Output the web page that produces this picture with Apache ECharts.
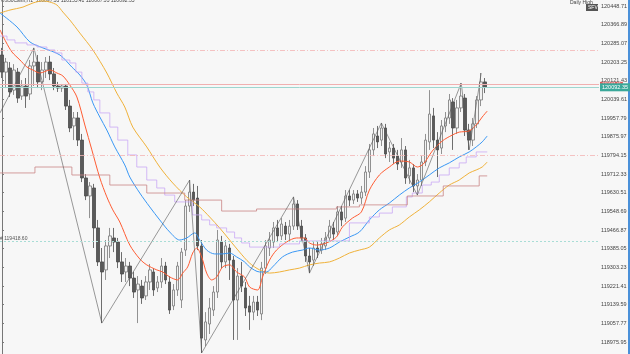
<!DOCTYPE html>
<html>
<head>
<meta charset="utf-8">
<script src="https://cdn.jsdelivr.net/npm/echarts@6/dist/echarts.min.js"></script>
<style>
  html, body { margin: 0; padding: 0; background: #f7f7f7; }
  #main { width: 630px; height: 354px; }
</style>
</head>
<body>
<div id="main"></div>
<script>
// H1 candles: [open, close, low, high]
const candles = [
  [120234,120159,120133,120265],[120159,120203,120089,120221],[120177,120072,120050,120203],[120080,120168,120059,120194],
  [120159,120045,120024,120177],[120054,120098,120037,120124],[120098,120054,120002,120133],[120063,120186,120037,120212],
  [120186,120203,120098,120265],[120203,120116,120089,120234],[120116,120168,120080,120203],[120168,120203,120133,120225],
  [120203,120151,120124,120230],[120151,120098,120080,120177],[120098,120089,120072,120116],[120089,120098,120072,120107],
  [120098,120010,119993,120107],[120010,119914,119896,120037],[119923,119958,119861,119984],[119958,119861,119835,119984],
  [119861,119695,119677,119888],[119695,119616,119598,119712],[119616,119660,119519,119677],[119651,119476,119388,119669],
  [119476,119327,119309,119511],[119327,119283,119059,119388],[119292,119397,119248,119423],[119397,119441,119344,119476],
  [119432,119414,119370,119476],[119414,119327,119300,119432],[119327,119274,119239,119370],[119283,119309,119239,119344],
  [119309,119256,119221,119327],[119256,119195,119169,119283],[119204,119230,119059,119265],[119221,119169,119143,119248],
  [119178,119239,119160,119265],[119239,119292,119204,119318],[119283,119204,119178,119300],[119213,119239,119195,119265],
  [119239,119309,119213,119344],[119309,119248,119230,119327],[119239,119116,119099,119265],[119134,119204,119116,119230],
  [119204,119309,119178,119327],[119160,119370,119125,119388],[119379,119572,119353,119598],[119572,119633,119546,119686],
  [119633,119598,119572,119669],[119607,119397,119379,119660],[119397,118993,118928,119423],[118985,119064,118958,119107],
  [119055,119125,119011,119169],[119116,119195,119090,119221],[119195,119423,119169,119467],[119414,119327,119300,119441],
  [119327,119397,119300,119423],[119388,119335,119248,119406],[119335,119160,118985,119353],[119160,119265,118985,119300],
  [119265,119221,119195,119327],[119213,119125,119090,119239],[119134,119107,119029,119178],[119107,119151,119072,119178],
  [119151,119116,119090,119178],[119099,119300,119072,119327],[119300,119397,119274,119423],[119388,119423,119353,119458],
  [119414,119476,119388,119502],[119476,119441,119414,119511],[119441,119493,119423,119519],[119484,119449,119423,119502],
  [119449,119484,119414,119511],[119484,119581,119467,119612],[119581,119484,119467,119598],[119484,119432,119414,119511],
  [119432,119353,119327,119449],[119353,119327,119278,119388],[119335,119388,119309,119414],[119388,119370,119344,119414],
  [119379,119406,119362,119432],[119397,119432,119379,119458],[119432,119484,119414,119511],[119476,119449,119423,119502],
  [119458,119546,119441,119572],[119546,119511,119484,119572],[119519,119616,119502,119642],[119616,119598,119572,119642],
  [119598,119625,119581,119642],[119625,119607,119590,119642],[119607,119633,119581,119660],[119633,119721,119616,119747],
  [119721,119818,119695,119844],[119818,119888,119791,119914],[119879,119853,119826,119923],[119861,119914,119835,119936],
  [119914,119800,119782,119932],[119809,119826,119765,119853],[119826,119782,119756,119844],[119791,119756,119730,119818],
  [119765,119818,119739,119870],[119818,119695,119669,119835],[119704,119739,119669,119774],[119739,119660,119633,119756],
  [119660,119686,119620,119712],[119686,119765,119660,119791],[119765,119861,119747,119888],[119853,119975,119818,120080],
  [119967,119861,119826,120002],[119861,119818,119699,119896],[119826,119923,119800,119949],[119923,119958,119896,119984],
  [119958,120037,119932,120063],[120028,119914,119818,120045],[119914,120002,119888,120037],[120002,120054,119984,120111],
  [120045,119905,119879,120063],[119905,119861,119818,119932],[119861,119932,119835,119958],[119932,120037,119914,120054],
  [120037,120116,120010,120155],[120116,120092,120067,120133]
]

// indicator lines as [bar position, price]
const fastMA = [
  [-0.5,120344],[1,120291],[2.5,120247],[4.5,120212],[6.25,120181],[7.75,120168],[9.5,120155],[12,120168],
  [13.75,120155],[15.25,120142],[17,120102],[18.75,120050],[20.75,119927],[22.5,119818],[24.5,119695],[26.25,119612],
  [27.75,119555],[29.5,119502],[32,119401],[34.5,119340],[36.25,119314],[38.75,119292],[40.25,119283],[42,119261],
  [44,119248],[45.25,119278],[46.5,119305],[47.75,119366],[48.75,119388],[50,119349],[51.25,119278],[52.5,119248],
  [53.75,119261],[55.25,119305],[57,119314],[58.75,119283],[60.75,119261],[62,119217],[64,119204],[65.25,119261],
  [67,119335],[68.75,119379],[71.25,119414],[73.75,119432],[75.75,119432],[77,119410],[78.75,119401],[81.25,119410],
  [83.75,119436],[85.25,119480],[87.75,119519],[90,119546],[92,119642],[94.5,119708],[97,119743],[99.5,119769],
  [102,119765],[104,119743],[105.5,119756],[107.75,119813],[110.25,119857],[112.75,119883],[114.5,119896],[117,119901],
  [118.75,119927],[120.25,119962],[121.5,119988]
]
const midMA = [
  [-0.5,120418],[3.75,120357],[7,120291],[10.25,120265],[14.5,120234],[17.5,120181],[19.5,120146],[21.25,120102],
  [22.75,120024],[24.5,119962],[26.25,119905],[28.25,119831],[30.75,119752],[32,119699],[34.5,119629],[37,119568],
  [39.5,119511],[42,119458],[44.5,119423],[46.25,119432],[48.25,119454],[49.5,119423],[51.25,119379],[53.25,119362],
  [55.25,119362],[57,119366],[58.75,119349],[60.75,119327],[62,119305],[64.5,119283],[66.25,119283],[67.75,119305],
  [70.25,119349],[72.75,119370],[75.25,119379],[77,119388],[79.5,119379],[82,119388],[84.5,119414],[87,119436],
  [89.5,119458],[92,119511],[94.5,119555],[97,119585],[99.5,119620],[102,119651],[104.5,119677],[107,119708],
  [109.5,119739],[112,119761],[114.5,119787],[117,119809],[118.75,119831],[120.25,119853],[121.5,119879]
]
const slowMA = [
  [-0.5,120418],[2,120431],[5.25,120444],[7.75,120462],[10.25,120471],[12,120466],[13.75,120453],[15.25,120422],
  [17,120387],[19.5,120330],[22.75,120256],[26.25,120155],[28.75,120067],[30.75,120006],[32.75,119918],[36.25,119831],
  [39.5,119743],[42.75,119673],[46.25,119612],[49.5,119568],[52,119524],[54.5,119476],[57,119423],[59.5,119370],
  [62,119322],[64.5,119292],[67,119278],[69.5,119283],[72,119292],[74.5,119300],[77,119314],[79.5,119322],
  [82,119327],[84.5,119344],[87,119366],[89.5,119379],[92,119392],[94.5,119432],[97,119467],[99.5,119489],
  [102,119524],[104.5,119555],[107,119590],[109.5,119629],[112,119664],[114.5,119686],[117,119717],[118.75,119730],
  [120.25,119743],[121.5,119765]
]
const purpleSteps = [
  [-0.5,120317],[1.25,120300],[3.25,120287],[6.25,120278],[8.75,120269],[11.25,120256],[13.25,120243],[15,120212],
  [17,120199],[18.5,120159],[20,120111],[21.5,120072],[23,120037],[24.5,119980],[27,119918],[29,119861],
  [31.5,119796],[33.75,119743],[36.25,119686],[38.75,119651],[40.75,119620],[43.25,119590],[47.75,119533],[50,119511],
  [52,119489],[53.75,119476],[56.25,119458],[58.25,119432],[60,119410],[62,119392],[69.5,119406],[74.5,119419],
  [87,119498],[92,119524],[94.5,119541],[97.75,119568],[101.25,119612],[102.75,119629],[105.25,119664],[107.5,119677],
  [109.5,119708],[112,119739],[114.5,119761],[116.25,119787],[118.75,119809],[121.5,119809]
]
const redSteps = [
  [-0.5,119717],[8.25,119743],[17.5,119708],[27,119664],[36.25,119629],[45.75,119598],[55,119550],[63.75,119559],
  [83.75,119568],[89.5,119577],[101.5,119616],[110.5,119660],[119.5,119704],[121.5,119704]
]
const zigzag = [
  [-0.5,119980],[8,120265],[25,119059],[47,119686],[50,118928],[73,119612],[77,119278],
  [95,119936],[104,119620],[115,120111],[117,119818],[120,120155]
]

// price axis ticks and horizontal levels
const priceTicks = [
  120448.71,120366.89,120285.07,120203.25,120121.43,120039.61,119957.79,119875.97,119794.15,119712.33,
  119630.51,119548.69,119466.87,119385.05,119303.23,119221.41,119139.59,119057.77,118975.95
]
const levelDashed = [120256, 119796]
const levelHigh = 120107.41
const levelBid = 120092.35
const levelDotted = 119418.6

const barSlots = 150
const slots = []
for (let i = 0; i < barSlots; i++) slots.push(String(i))

const chart = echarts.init(document.getElementById('main'), null, { renderer: 'canvas' })

const lineSeries = (data, color, extra) => Object.assign({
  type: 'line',
  xAxisIndex: 1,
  data: data,
  symbol: 'none',
  smooth: 0.3,
  silent: true,
  lineStyle: { color: color, width: 1 }
}, extra || {})

const tag = (text, bg, size, pad) => ({
  show: true, position: 'end', distance: 1,
  formatter: () => text,
  fontSize: size, fontFamily: 'Liberation Sans', color: '#fff', backgroundColor: bg, padding: pad
})

chart.setOption({
  backgroundColor: '#f7f7f7',
  animation: false,
  grid: { left: 0, right: 30, top: 0, bottom: 0 },
  xAxis: [
    { type: 'category', data: slots, boundaryGap: true, show: false },
    { type: 'value', min: -0.5, max: barSlots - 0.5, show: false }
  ],
  yAxis: {
    type: 'value',
    position: 'right',
    min: 118923.4,
    max: 120475.0,
    axisLine: { show: true, lineStyle: { color: '#777', width: 1 } },
    axisTick: { show: true, customValues: priceTicks, length: 2, lineStyle: { color: '#777' } },
    axisLabel: {
      customValues: priceTicks,
      fontSize: 5.5,
      fontFamily: 'Liberation Sans',
      color: '#444',
      margin: 2,
      formatter: v => v.toFixed(2)
    },
    splitLine: { show: false }
  },
  series: [
    {
      type: 'candlestick',
      data: candles,
      barWidth: 3,
      silent: true,
      itemStyle: {
        color: '#f2f2f2',
        color0: '#5a5a5a',
        borderColor: '#777',
        borderColor0: '#4a4a4a',
        borderWidth: 0.8
      }
    },
    lineSeries(slowMA, '#f0b23a'),
    lineSeries(midMA, '#3a98f5'),
    lineSeries(fastMA, '#ff5c33'),
    lineSeries(purpleSteps, '#c9a8f5', { smooth: false, step: 'end', lineStyle: { color: '#c9a8f5', width: 0.8 } }),
    lineSeries(redSteps, '#c98585', { smooth: false, step: 'end', lineStyle: { color: '#c98585', width: 0.8 } }),
    lineSeries(zigzag, '#555', {
      smooth: false,
      lineStyle: { color: '#555', width: 0.6 },
      markLine: {
        silent: true,
        symbol: 'none',
        animation: false,
        data: [
          { yAxis: levelDashed[0], lineStyle: { color: '#f2b4b4', type: [5, 2, 1, 2], width: 0.8 }, label: { show: false } },
          { yAxis: levelDashed[1], lineStyle: { color: '#f2b4b4', type: [5, 2, 1, 2], width: 0.8 }, label: { show: false } },
          {
            yAxis: levelHigh,
            lineStyle: { color: '#f0b0b0', type: 'solid', width: 1 },
            label: tag(levelHigh.toFixed(2), '#e25a5a', 4, [0, 2])
          },
          {
            yAxis: levelBid,
            lineStyle: { color: '#9ed6cf', type: 'solid', width: 1 },
            label: tag(levelBid.toFixed(2), '#3aa89a', 5.5, [1, 2])
          },
          {
            yAxis: levelDotted,
            lineStyle: { color: '#a9ddd6', type: [2, 2], width: 1 },
            label: {
              show: true, position: 'insideStartTop', distance: 0,
              formatter: () => '# ' + levelDotted.toFixed(2),
              fontSize: 5, color: '#555'
            }
          }
        ]
      }
    })
  ],
  graphic: [
    { type: 'text', left: 1, top: -2, style: { text: 'US30Cash,H1  120097.33 120155.41 120067.33 120092.35', fontSize: 5, fill: '#444' } },
    { type: 'text', left: 570, top: 0, style: { text: 'Daily High', fontSize: 5, fill: '#444' } },
    { type: 'rect', shape: { x: 586, y: 4, width: 12, height: 7 }, style: { fill: '#555' } },
    { type: 'text', left: 588, top: 5, style: { text: 'SFV', fontSize: 5, fill: '#fff' } },
    { type: 'rect', shape: { x: 628, y: 0, width: 2, height: 354 }, style: { fill: '#4a90d9' } }
  ]
})
</script>
</body>
</html>
